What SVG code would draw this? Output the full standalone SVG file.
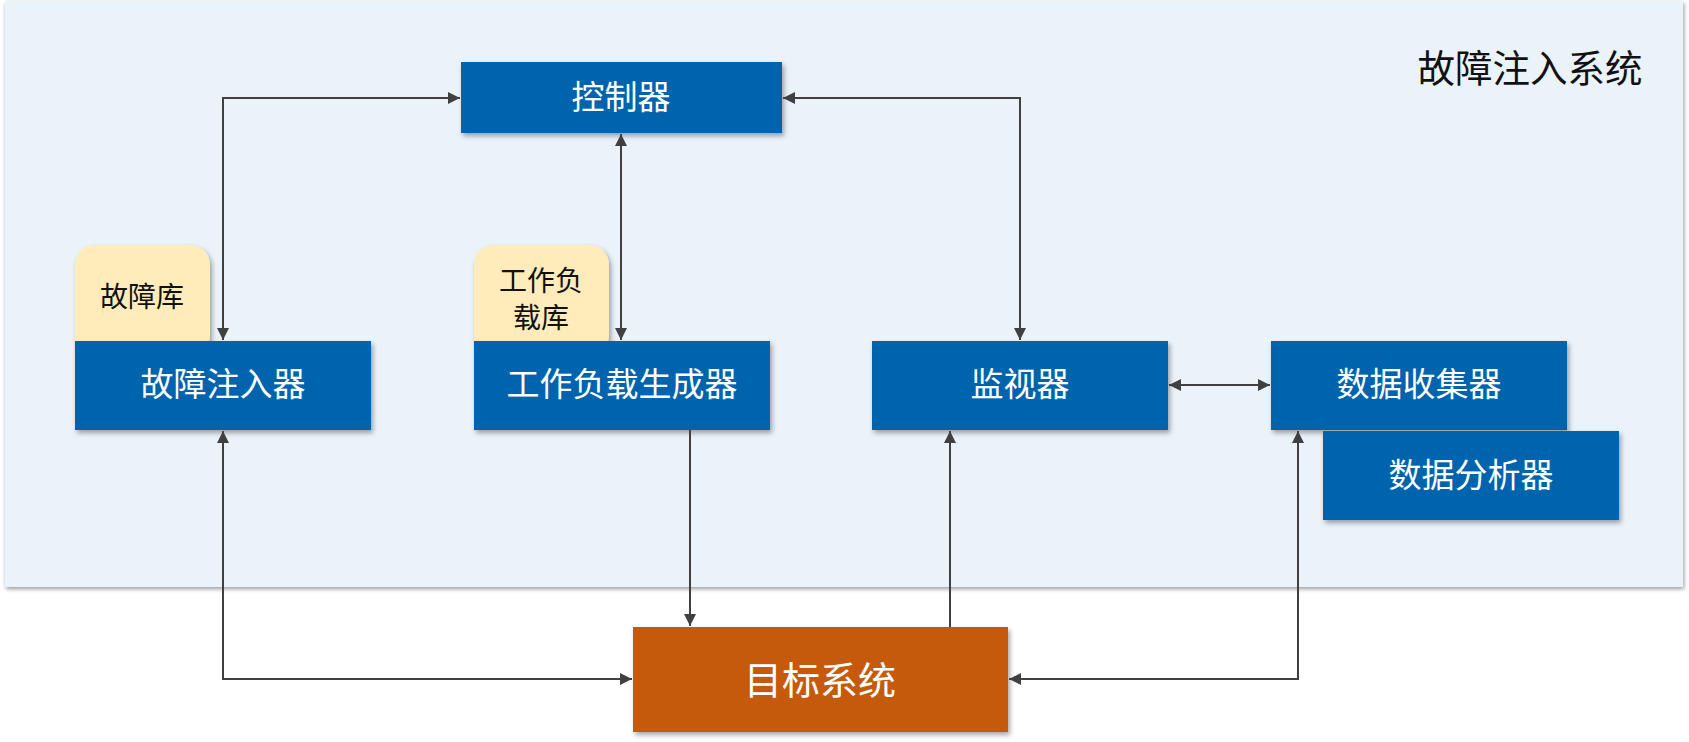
<svg xmlns="http://www.w3.org/2000/svg" width="1689" height="742" viewBox="0 0 1689 742">
<style>
.blue{fill:#0064AD;}
.yel{fill:#FFECBA;}
.t{font-family:"Noto Sans CJK SC","Noto Sans",sans-serif;text-anchor:middle;dominant-baseline:central;}
.w{fill:#FFFFFF;font-size:33px;}
.k{fill:#111111;font-size:28px;}
.ln{fill:none;stroke:#404040;stroke-width:2;}
</style>
<defs>
<filter id="sh" x="-10%" y="-10%" width="125%" height="130%">
<feDropShadow dx="2" dy="3" stdDeviation="2.5" flood-color="#000" flood-opacity="0.35"/>
</filter>
<filter id="sh2" x="-5%" y="-5%" width="110%" height="115%">
<feDropShadow dx="1" dy="2" stdDeviation="2" flood-color="#000" flood-opacity="0.4"/>
</filter>
<marker id="ah" viewBox="0 0 10 10" refX="10" refY="5" markerWidth="12" markerHeight="12" markerUnits="userSpaceOnUse" orient="auto-start-reverse">
<path d="M0,0 L10,5 L0,10 z" fill="#404040"/>
</marker>
</defs>
<rect width="1689" height="742" fill="#FFFFFF"/>
<g id="panel">
<rect x="5" y="1" width="1678" height="586" fill="#EAF2FA" filter="url(#sh2)"/>
<text class="t" x="1530" y="65" style="font-size:37.5px;fill:#111;">故障注入系统</text>
</g>
<g id="lib-fault">
<rect x="75" y="245" width="135" height="110" rx="20" class="yel" filter="url(#sh)"/>
<text class="t k" x="142" y="295">故障库</text>
</g>
<g id="lib-workload">
<rect x="474" y="245" width="135" height="110" rx="20" class="yel" filter="url(#sh)"/>
<text class="t k" x="541" y="279">工作负</text>
<text class="t k" x="541" y="316">载库</text>
</g>
<g id="controller">
<rect x="461" y="62" width="321" height="71" class="blue" filter="url(#sh)"/>
<text class="t w" x="621" y="95">控制器</text>
</g>
<g id="injector">
<rect x="75" y="341" width="296" height="89" class="blue" filter="url(#sh)"/>
<text class="t w" x="223" y="382">故障注入器</text>
</g>
<g id="workload">
<rect x="474" y="341" width="296" height="89" class="blue" filter="url(#sh)"/>
<text class="t w" x="622" y="382">工作负载生成器</text>
</g>
<g id="monitor">
<rect x="872" y="341" width="296" height="89" class="blue" filter="url(#sh)"/>
<text class="t w" x="1020" y="382">监视器</text>
</g>
<g id="collector">
<rect x="1271" y="341" width="296" height="89" class="blue" filter="url(#sh)"/>
<text class="t w" x="1419" y="382">数据收集器</text>
</g>
<g id="analyzer">
<rect x="1323" y="431" width="296" height="89" class="blue" filter="url(#sh)"/>
<text class="t w" x="1471" y="473">数据分析器</text>
</g>
<g id="target">
<rect x="633" y="627" width="375" height="105" fill="#C55A11" filter="url(#sh)"/>
<text class="t" x="820" y="677" style="font-size:38px;fill:#fff;">目标系统</text>
</g>
<g id="connectors">
<path class="ln" d="M223,340 V98 H460" marker-start="url(#ah)" marker-end="url(#ah)"/>
<path class="ln" d="M783,98 H1020 V340" marker-start="url(#ah)" marker-end="url(#ah)"/>
<path class="ln" d="M621,134 V340" marker-start="url(#ah)" marker-end="url(#ah)"/>
<path class="ln" d="M223,431 V679 H632" marker-start="url(#ah)" marker-end="url(#ah)"/>
<path class="ln" d="M690,430 V626" marker-end="url(#ah)"/>
<path class="ln" d="M950,627 V431" marker-end="url(#ah)"/>
<path class="ln" d="M1169,385 H1270" marker-start="url(#ah)" marker-end="url(#ah)"/>
<path class="ln" d="M1298,431 V679 H1009" marker-start="url(#ah)" marker-end="url(#ah)"/>
</g>
</svg>
